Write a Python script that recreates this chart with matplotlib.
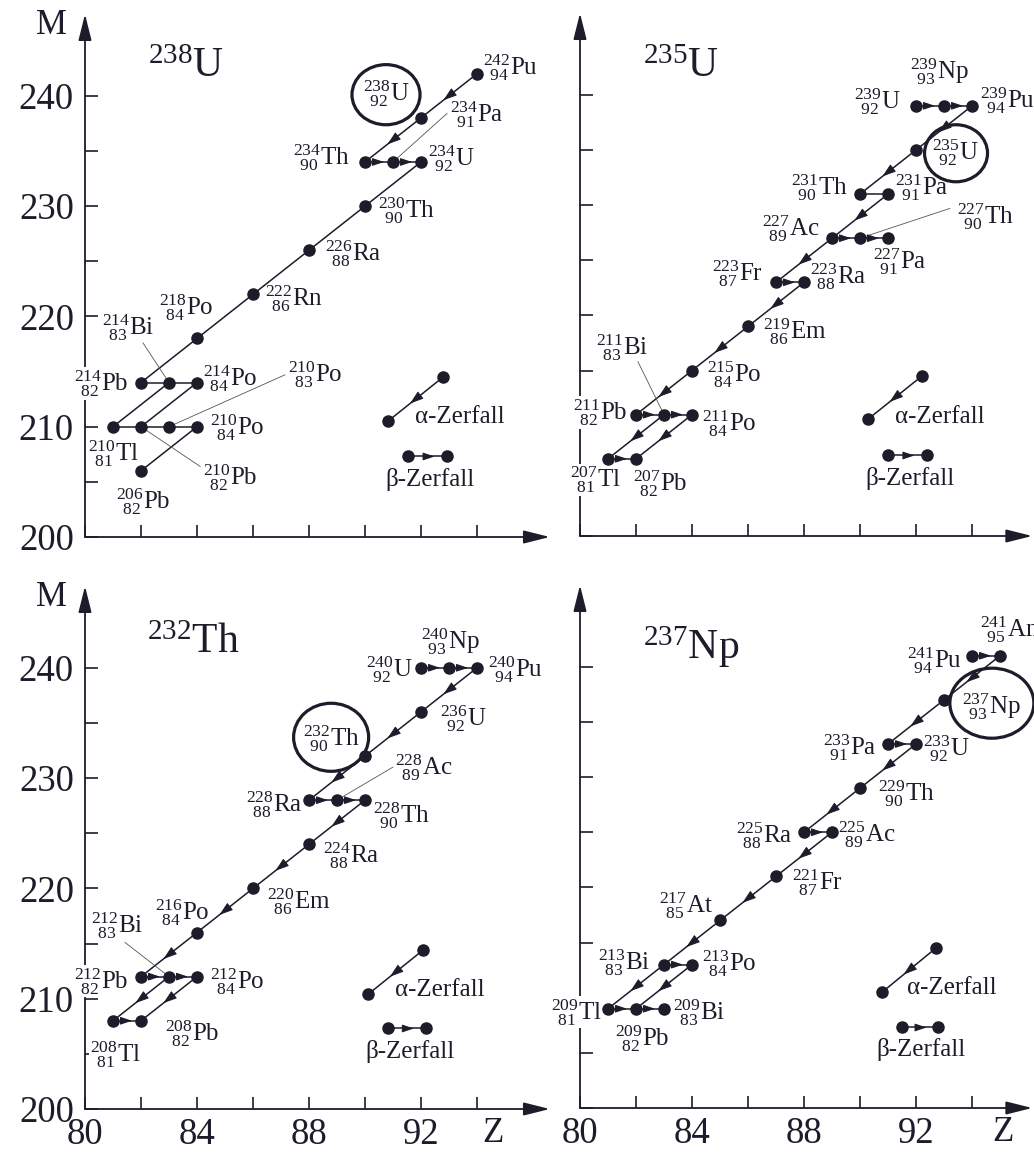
"""Zerfallsreihen 238U, 235U, 232Th, 237Np in der Z-M-Ebene (4 panels)."""

import numpy as np
import matplotlib
matplotlib.use("Agg")
import matplotlib.pyplot as plt
from matplotlib.patches import Ellipse

plt.rcParams["font.family"] = "Liberation Serif"
plt.rcParams["mathtext.fontset"] = "custom"
plt.rcParams["mathtext.rm"] = "Liberation Serif"
plt.rcParams["mathtext.it"] = "Liberation Serif:italic"
plt.rcParams["mathtext.bf"] = "Liberation Serif:bold"

INK = "#1c1c2a"

# ------------------------------------------------------------------ data --
# nuclides: (Z, mass number, symbol as printed)
U238_NUCLIDES = [
    (94, 242, "Pu"), (92, 238, "U"), (90, 234, "Th"), (91, 234, "Pa"),
    (92, 234, "U"), (90, 230, "Th"), (88, 226, "Ra"), (86, 222, "Rn"),
    (84, 218, "Po"), (82, 214, "Pb"), (83, 214, "Bi"), (84, 214, "Po"),
    (81, 210, "Tl"), (82, 210, "Pb"), (83, 210, "Po"), (84, 210, "Po"),
    (82, 206, "Pb"),
]
U238_DECAYS = [
    ((94, 242), (92, 238)), ((92, 238), (90, 234)), ((90, 234), (91, 234)),
    ((91, 234), (92, 234)), ((92, 234), (90, 230)), ((90, 230), (88, 226)),
    ((88, 226), (86, 222)), ((86, 222), (84, 218)), ((84, 218), (82, 214)),
    ((82, 214), (83, 214)), ((83, 214), (84, 214)), ((83, 214), (81, 210)),
    ((84, 214), (82, 210)), ((81, 210), (82, 210)), ((82, 210), (83, 210)),
    ((83, 210), (84, 210)), ((84, 210), (82, 206)),
]
U238_ARROWED = U238_DECAYS[:4]

U235_NUCLIDES = [
    (92, 239, "U"), (93, 239, "Np"), (94, 239, "Pu"), (92, 235, "U"),
    (90, 231, "Th"), (91, 231, "Pa"), (89, 227, "Ac"), (90, 227, "Th"),
    (91, 227, "Pa"), (87, 223, "Fr"), (88, 223, "Ra"), (86, 219, "Em"),
    (84, 215, "Po"), (82, 211, "Pb"), (83, 211, "Bi"), (84, 211, "Po"),
    (81, 207, "Tl"), (82, 207, "Pb"),
]
U235_DECAYS = [
    ((92, 239), (93, 239)), ((93, 239), (94, 239)), ((94, 239), (92, 235)),
    ((92, 235), (90, 231)), ((90, 231), (91, 231)), ((91, 231), (89, 227)),
    ((89, 227), (90, 227)), ((90, 227), (91, 227)), ((89, 227), (87, 223)),
    ((87, 223), (88, 223)), ((88, 223), (86, 219)), ((86, 219), (84, 215)),
    ((84, 215), (82, 211)), ((82, 211), (83, 211)), ((83, 211), (84, 211)),
    ((83, 211), (81, 207)), ((84, 211), (82, 207)), ((81, 207), (82, 207)),
]
U235_ARROWED = [d for d in U235_DECAYS if d != ((90, 231), (91, 231))]

TH232_NUCLIDES = [
    (92, 240, "U"), (93, 240, "Np"), (94, 240, "Pu"), (92, 236, "U"),
    (90, 232, "Th"), (88, 228, "Ra"), (89, 228, "Ac"), (90, 228, "Th"),
    (88, 224, "Ra"), (86, 220, "Em"), (84, 216, "Po"), (82, 212, "Pb"),
    (83, 212, "Bi"), (84, 212, "Po"), (81, 208, "Tl"), (82, 208, "Pb"),
]
TH232_DECAYS = [
    ((92, 240), (93, 240)), ((93, 240), (94, 240)), ((94, 240), (92, 236)),
    ((92, 236), (90, 232)), ((90, 232), (88, 228)), ((88, 228), (89, 228)),
    ((89, 228), (90, 228)), ((90, 228), (88, 224)), ((88, 224), (86, 220)),
    ((86, 220), (84, 216)), ((84, 216), (82, 212)), ((82, 212), (83, 212)),
    ((83, 212), (84, 212)), ((83, 212), (81, 208)), ((84, 212), (82, 208)),
    ((81, 208), (82, 208)),
]
TH232_ARROWED = TH232_DECAYS

NP237_NUCLIDES = [
    (94, 241, "Pu"), (95, 241, "Am"), (93, 237, "Np"), (91, 233, "Pa"),
    (92, 233, "U"), (90, 229, "Th"), (88, 225, "Ra"), (89, 225, "Ac"),
    (87, 221, "Fr"), (85, 217, "At"), (83, 213, "Bi"), (84, 213, "Po"),
    (81, 209, "Tl"), (82, 209, "Pb"), (83, 209, "Bi"),
]
NP237_DECAYS = [
    ((94, 241), (95, 241)), ((95, 241), (93, 237)), ((93, 237), (91, 233)),
    ((91, 233), (92, 233)), ((92, 233), (90, 229)), ((90, 229), (88, 225)),
    ((88, 225), (89, 225)), ((89, 225), (87, 221)), ((87, 221), (85, 217)),
    ((85, 217), (83, 213)), ((83, 213), (84, 213)), ((83, 213), (81, 209)),
    ((84, 213), (82, 209)), ((81, 209), (82, 209)), ((82, 209), (83, 209)),
]
NP237_ARROWED = NP237_DECAYS

TITLES = [("238", "U"), ("235", "U"), ("232", "Th"), ("237", "Np")]

Z_TICKS = list(range(80, 96, 2))
Z_TICKLABELS = ["80", "", "84", "", "88", "", "92", ""]
M_TICKS = list(range(200, 245, 5))
M_TICKLABELS = ["200", "", "210", "", "220", "", "230", "", "240"]

# ---------------------------------------------------------------- layout --
# label anchor (Z, M, ha) for every nuclide
LABELS_U238 = {
    (94, 242): (94.21, 242.6, "left"), (92, 238): (90.75, 240.2, "center"),
    (91, 234): (93.04, 238.3, "left"), (90, 234): (89.46, 234.4, "right"),
    (92, 234): (92.25, 234.3, "left"), (90, 230): (90.46, 229.6, "left"),
    (88, 226): (88.57, 225.7, "left"), (86, 222): (86.43, 221.6, "left"),
    (84, 218): (83.60, 220.8, "center"), (83, 214): (81.54, 219.0, "center"),
    (82, 214): (81.54, 213.9, "right"), (84, 214): (84.21, 214.4, "left"),
    (83, 210): (87.25, 214.7, "left"), (84, 210): (84.46, 209.9, "left"),
    (81, 210): (81.00, 207.6, "center"), (82, 210): (84.21, 205.4, "left"),
    (82, 206): (82.07, 203.2, "center"),
}
LABELS_U235 = {
    (93, 239): (92.82, 242.1, "center"), (92, 239): (91.43, 239.4, "right"),
    (94, 239): (94.29, 239.5, "left"), (92, 235): (93.40, 234.8, "center"),
    (90, 231): (89.57, 231.6, "right"), (91, 231): (91.25, 231.6, "left"),
    (90, 227): (93.46, 229.0, "left"), (89, 227): (88.57, 227.9, "right"),
    (91, 227): (90.46, 224.9, "left"), (87, 223): (86.54, 223.8, "right"),
    (88, 223): (88.21, 223.5, "left"), (86, 219): (86.54, 218.5, "left"),
    (84, 215): (84.54, 214.6, "left"), (83, 211): (81.50, 217.1, "center"),
    (82, 211): (81.71, 211.2, "right"), (84, 211): (84.36, 210.2, "left"),
    (81, 207): (80.54, 205.1, "center"), (82, 207): (82.86, 204.8, "center"),
}
LABELS_TH232 = {
    (93, 240): (93.04, 242.4, "center"), (92, 240): (91.71, 239.8, "right"),
    (94, 240): (94.39, 239.8, "left"), (92, 236): (92.68, 235.4, "left"),
    (90, 232): (88.79, 233.6, "center"), (89, 228): (91.07, 231.0, "left"),
    (88, 228): (87.75, 227.6, "right"), (90, 228): (90.29, 226.6, "left"),
    (88, 224): (88.50, 223.0, "left"), (86, 220): (86.50, 218.8, "left"),
    (84, 216): (83.46, 217.8, "center"), (83, 212): (81.14, 216.6, "center"),
    (82, 212): (81.54, 211.6, "right"), (84, 212): (84.46, 211.6, "left"),
    (81, 208): (81.07, 204.9, "center"), (82, 208): (82.86, 206.8, "left"),
}
LABELS_NP237 = {
    (95, 241): (94.29, 243.4, "left"), (94, 241): (93.64, 240.6, "right"),
    (93, 237): (94.68, 236.4, "center"), (91, 233): (90.61, 232.7, "right"),
    (92, 233): (92.25, 232.6, "left"), (90, 229): (90.64, 228.5, "left"),
    (88, 225): (87.57, 224.7, "right"), (89, 225): (89.21, 224.8, "left"),
    (87, 221): (87.57, 220.4, "left"), (85, 217): (83.79, 218.4, "center"),
    (83, 213): (82.50, 213.2, "right"), (84, 213): (84.36, 213.1, "left"),
    (81, 209): (80.79, 208.7, "right"), (83, 209): (83.32, 208.7, "left"),
    (82, 209): (82.21, 206.3, "center"),
}
# thin leader lines: (label end, nuclide)
LEADERS = [
    [((92.93, 238.4), (91, 234)), ((82.07, 217.6), (83, 214)),
     ((87.14, 214.7), (83, 210)), ((84.11, 206.4), (82, 210))],
    [((93.21, 229.7), (90, 227)), ((82.07, 215.8), (83, 211))],
    [((91.00, 231.0), (89, 228)), ((81.43, 215.1), (83, 212))],
    [],
]
# ellipse around the parent nuclide: centre Z, centre M, width, height
RINGS = [(90.75, 240.1, 2.43, 5.45), (93.43, 234.7, 2.25, 5.17),
         (88.79, 233.7, 2.68, 6.17), (94.71, 236.7, 3.00, 6.35)]
TITLE_POS = [(82.25, 242.6), (82.25, 242.5), (82.2, 242.3), (82.25, 241.8)]
# legend: alpha line (from, to), beta line (z0, z1, M), text anchors
LEGENDS = [
    ((92.79, 214.5), (90.82, 210.5), (91.54, 92.93, 207.3), (91.79, 210.9), (90.71, 205.2)),
    ((92.21, 214.5), (90.29, 210.6), (91.00, 92.39, 207.3), (91.25, 210.8), (90.18, 205.2)),
    ((92.07, 214.4), (90.11, 210.4), (90.82, 92.18, 207.3), (91.07, 210.8), (90.00, 205.2)),
    ((92.71, 214.5), (90.79, 210.5), (91.50, 92.79, 207.3), (91.68, 210.9), (90.60, 205.3)),
]

W, H = 1034, 1153
PX_Z, PX_M = 28.0, 11.03
M_TOP = 247.4
# left px of Z=80, px of M=200, right end of Z-axis
FRAMES = [(85, 537, 96.6), (580, 536, 96.15), (85, 1109, 96.6), (580, 1108, 96.15)]

LABEL_FS = 18
AXIS_FS = 26.5


def nuclide_tex(z, a, sym):
    pad = r"\enspace" if len(str(a)) > len(str(z)) else ""
    return r"${}^{%d}_{%s%d}\mathrm{%s}$" % (a, pad, z, sym)


def arrowhead(ax, p0, p1):
    x0, y0 = ax.transData.transform(p0)
    x1, y1 = ax.transData.transform(p1)
    dx, dy = x1 - x0, y1 - y0
    n = np.hypot(dx, dy)
    if abs(dy) < 1e-6:   # beta step: short, small head
        frac, back, style = 0.68, 9, "-|>,head_length=0.36,head_width=0.12"
    else:                # alpha step
        frac, back, style = 0.6, 13, "-|>,head_length=0.42,head_width=0.14"
    tip = (p0[0] + frac * (p1[0] - p0[0]), p0[1] + frac * (p1[1] - p0[1]))
    ax.annotate("", xy=tip, xytext=(-dx / n * back, -dy / n * back),
                textcoords="offset pixels",
                arrowprops=dict(arrowstyle=style, mutation_scale=20,
                                fc=INK, ec=INK, lw=0.7, shrinkA=0, shrinkB=0),
                zorder=4.5, annotation_clip=False)


fig = plt.figure(figsize=(W / 100, H / 100), dpi=100)

panels = [
    (U238_NUCLIDES, U238_DECAYS, U238_ARROWED, LABELS_U238),
    (U235_NUCLIDES, U235_DECAYS, U235_ARROWED, LABELS_U235),
    (TH232_NUCLIDES, TH232_DECAYS, TH232_ARROWED, LABELS_TH232),
    (NP237_NUCLIDES, NP237_DECAYS, NP237_ARROWED, LABELS_NP237),
]

for i, (nuclides, decays, arrowed, labels) in enumerate(panels):
    left, base, zmax = FRAMES[i]
    w = (zmax - 80) * PX_Z
    h = (M_TOP - 200) * PX_M
    ax = fig.add_axes([left / W, 1 - base / H, w / W, h / H])
    ax.set_xlim(80, zmax)
    ax.set_ylim(200, M_TOP)
    for s in ax.spines.values():
        s.set_visible(False)
    is_left, is_bottom = i % 2 == 0, i >= 2

    # axes with arrows
    for end in [(0, 1), (1, 0)]:
        ax.annotate("", xy=end, xytext=(0, 0), xycoords="axes fraction",
                    textcoords="axes fraction",
                    arrowprops=dict(arrowstyle="-|>,head_length=0.8,head_width=0.2",
                                    mutation_scale=20, fc=INK, ec=INK, lw=1.3,
                                    shrinkA=0, shrinkB=0),
                    zorder=2.4, annotation_clip=False)

    ax.set_xticks(Z_TICKS, Z_TICKLABELS if is_bottom else [""] * len(Z_TICKS))
    ax.set_yticks(M_TICKS, M_TICKLABELS if is_left else [""] * len(M_TICKS))
    ax.tick_params(direction="in", length=9, width=1.2, color=INK,
                   labelsize=AXIS_FS, labelcolor=INK)
    ax.tick_params(axis="x", pad=6)
    ax.tick_params(axis="y", pad=8)

    if is_left:
        ax.text(78.8, 246.4, "M", fontsize=25, color=INK, ha="center", va="center")
    if is_bottom:
        zx = 94.57 if is_left else 95.1
        ax.text(zx, 197.8, "Z", fontsize=25, color=INK, ha="center", va="center")

    # decay lines and arrowheads
    for p0, p1 in decays:
        ax.plot([p0[0], p1[0]], [p0[1], p1[1]], color=INK, lw=1.1, zorder=4)
    for p0, p1 in arrowed:
        arrowhead(ax, p0, p1)

    zs = [n[0] for n in nuclides]
    ms = [n[1] for n in nuclides]
    ax.plot(zs, ms, "o", ms=8, color=INK, zorder=5, clip_on=False)

    for z, a, sym in nuclides:
        lx, ly, ha = labels[(z, a)]
        ax.text(lx, ly, nuclide_tex(z, a, sym), fontsize=LABEL_FS, color=INK,
                ha=ha, va="center", zorder=3,
                bbox=dict(fc="white", ec="none", pad=0.5))

    for (lx, ly), (z, a) in LEADERS[i]:
        ax.plot([lx, z], [ly, a], color="#555555", lw=0.6, zorder=4)

    cx, cy, ew, eh = RINGS[i]
    ax.add_patch(Ellipse((cx, cy), ew, eh, fill=False, lw=2.3, ec=INK,
                         zorder=4, clip_on=False))

    tx, ty = TITLE_POS[i]
    mass, sym = TITLES[i]
    ax.text(tx, ty, r"$^{%s}\mathrm{%s}$" % (mass, sym), fontsize=30,
            color=INK, ha="left", va="center")

    # legend
    a0, a1, (bz0, bz1, bm), atxt, btxt = LEGENDS[i]
    ax.plot([a0[0], a1[0]], [a0[1], a1[1]], color=INK, lw=1.1, zorder=4)
    ax.plot([a0[0], a1[0]], [a0[1], a1[1]], "o", ms=8, color=INK, zorder=5)
    arrowhead(ax, a0, a1)
    ax.plot([bz0, bz1], [bm, bm], color=INK, lw=1.1, zorder=4)
    ax.plot([bz0, bz1], [bm, bm], "o", ms=8, color=INK, zorder=5)
    arrowhead(ax, (bz0, bm), (bz1, bm))
    ax.text(atxt[0], atxt[1], "α-Zerfall", fontsize=LABEL_FS, color=INK,
            ha="left", va="center")
    ax.text(btxt[0], btxt[1], "β-Zerfall", fontsize=LABEL_FS, color=INK,
            ha="left", va="center")

fig.savefig("out.png", dpi=100)
